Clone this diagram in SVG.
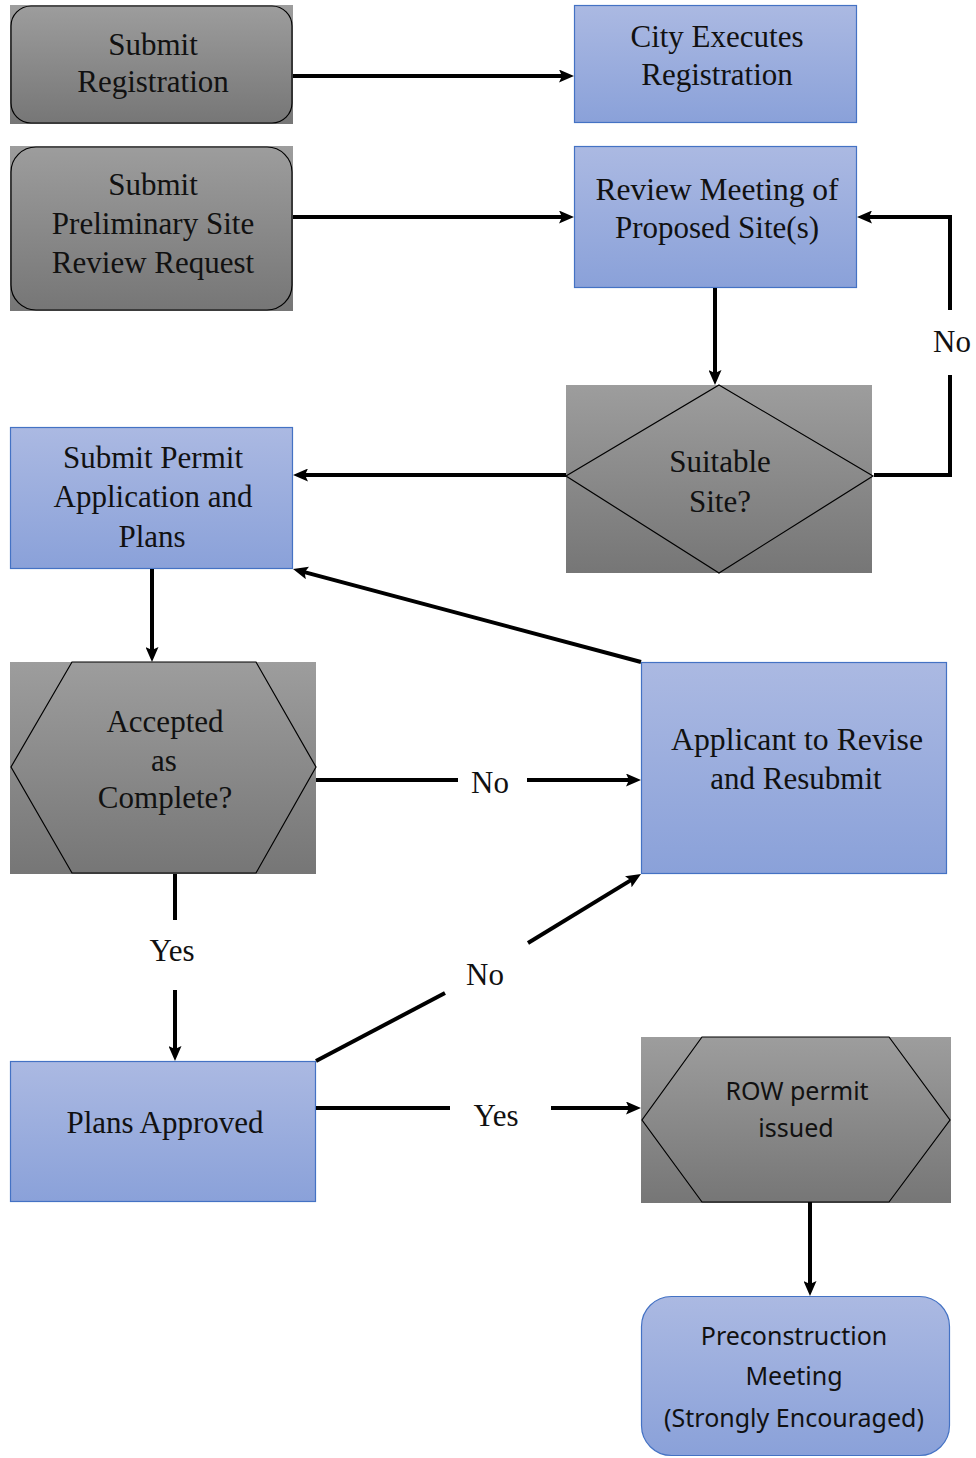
<svg xmlns="http://www.w3.org/2000/svg" width="976" height="1458" viewBox="0 0 976 1458">
<defs>
<linearGradient id="gGray" x1="0" y1="0" x2="0" y2="1">
<stop offset="0" stop-color="#9d9d9d"/>
<stop offset="1" stop-color="#767676"/>
</linearGradient>
<linearGradient id="gBlue" x1="0" y1="0" x2="0" y2="1">
<stop offset="0" stop-color="#abb9e2"/>
<stop offset="1" stop-color="#8aa1d9"/>
</linearGradient>
<marker id="ah" markerWidth="15" markerHeight="13" refX="9" refY="6.5" orient="auto" markerUnits="userSpaceOnUse">
<path d="M0,0 L15,6.5 L0,13 L3,6.5 z" fill="#000"/>
</marker>
</defs>
<style>
.gray{fill:url(#gGray);}
.blue{fill:url(#gBlue);stroke:#4472c4;stroke-width:1.2;}
.outline{fill:none;stroke:#000;stroke-width:1.2;}
.serif{font-family:"Liberation Serif","Times New Roman",serif;font-size:31px;fill:#111;text-anchor:middle;}
.sans{font-family:"Noto Sans","Open Sans","Liberation Sans",sans-serif;font-size:25px;fill:#111;text-anchor:middle;}
.conn{fill:none;stroke:#000;stroke-width:4;}
.arr{marker-end:url(#ah);}
</style>
<rect width="976" height="1458" fill="#fff"/>

<g id="submit-registration">
<rect class="gray" x="10" y="5" width="283" height="119"/>
<rect class="outline" x="11" y="6" width="281" height="117" rx="20"/>
<text class="serif" x="153" y="55">Submit</text>
<text class="serif" x="153" y="92">Registration</text>
</g>

<g id="city-executes">
<rect class="blue" x="574.5" y="5.5" width="282" height="117"/>
<text class="serif" x="717" y="47">City Executes</text>
<text class="serif" x="717" y="85">Registration</text>
</g>

<g id="submit-preliminary">
<rect class="gray" x="10" y="146" width="283" height="165"/>
<rect class="outline" x="11" y="147" width="281" height="163" rx="25"/>
<text class="serif" x="153" y="195">Submit</text>
<text class="serif" x="153" y="234">Preliminary Site</text>
<text class="serif" x="153" y="273">Review Request</text>
</g>

<g id="review-meeting">
<rect class="blue" x="574.5" y="146.5" width="282" height="141"/>
<text class="serif" x="717" y="200" textLength="243" lengthAdjust="spacingAndGlyphs">Review Meeting of</text>
<text class="serif" x="717" y="238">Proposed Site(s)</text>
</g>

<g id="suitable-site">
<rect class="gray" x="566" y="385" width="306" height="188"/>
<polygon class="outline" points="719,385 873,476 719,573 566,476"/>
<text class="serif" x="720" y="472">Suitable</text>
<text class="serif" x="720" y="512">Site?</text>
</g>

<g id="submit-permit">
<rect class="blue" x="10.5" y="427.5" width="282" height="141"/>
<text class="serif" x="153" y="468">Submit Permit</text>
<text class="serif" x="153" y="507">Application and</text>
<text class="serif" x="152" y="547">Plans</text>
</g>

<g id="accepted-complete">
<rect class="gray" x="10" y="662" width="306" height="212"/>
<polygon class="outline" points="72,662 256,662 316,767 256,873 72,873 11,767"/>
<text class="serif" x="165" y="732">Accepted</text>
<text class="serif" x="164" y="771">as</text>
<text class="serif" x="165" y="808">Complete?</text>
</g>

<g id="applicant-revise">
<rect class="blue" x="641.5" y="662.5" width="305" height="211"/>
<text class="serif" x="797" y="750" textLength="252" lengthAdjust="spacingAndGlyphs">Applicant to Revise</text>
<text class="serif" x="796" y="789">and Resubmit</text>
</g>

<g id="plans-approved">
<rect class="blue" x="10.5" y="1061.5" width="305" height="140"/>
<text class="serif" x="165" y="1133">Plans Approved</text>
</g>

<g id="row-permit">
<rect class="gray" x="641" y="1037" width="310" height="166"/>
<polygon class="outline" points="702,1037 889,1037 950,1120 889,1202 702,1202 642,1120"/>
<text class="sans" x="797" y="1100">ROW permit</text>
<text class="sans" x="796" y="1137">issued</text>
</g>

<g id="preconstruction">
<rect class="blue" x="641.5" y="1296.5" width="308" height="159" rx="30"/>
<text class="sans" x="794" y="1345">Preconstruction</text>
<text class="sans" x="794" y="1385">Meeting</text>
<text class="sans" x="794" y="1427">(Strongly Encouraged)</text>
</g>

<g id="connectors">
<path class="conn arr" d="M293,76 H568"/>
<path class="conn arr" d="M293,217 H568"/>
<path class="conn arr" d="M715,288 V379"/>
<path class="conn arr" d="M566,475 H299"/>
<path class="conn" d="M874,475 H950 V375"/>
<path class="conn arr" d="M950,310 V217 H863"/>
<text class="serif" x="952" y="352">No</text>
<path class="conn arr" d="M152,569 V656"/>
<path class="conn" d="M316,780 H458"/>
<path class="conn arr" d="M527,780 H635"/>
<text class="serif" x="490" y="793">No</text>
<path class="conn arr" d="M641,662 L298.8,570.6"/>
<path class="conn" d="M175,874 V920"/>
<path class="conn arr" d="M175,990 V1055"/>
<text class="serif" x="172" y="961">Yes</text>
<path class="conn" d="M316,1061 L445,993"/>
<path class="conn arr" d="M528,943 L635.9,877.1"/>
<text class="serif" x="485" y="985">No</text>
<path class="conn" d="M316,1108 H450"/>
<path class="conn arr" d="M551,1108 H635"/>
<text class="serif" x="496" y="1126">Yes</text>
<path class="conn arr" d="M810,1202 V1290"/>
</g>
</svg>
